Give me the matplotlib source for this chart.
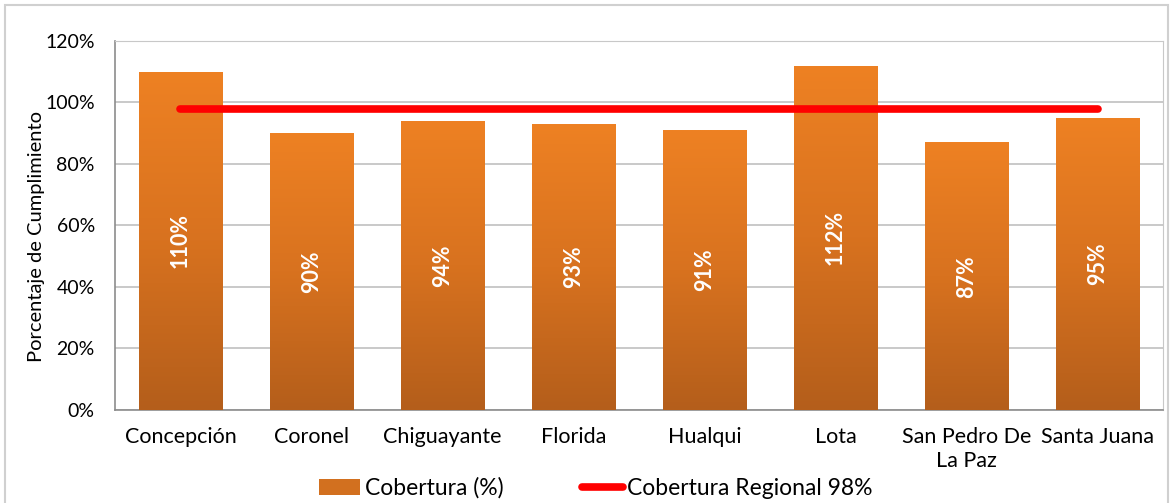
import numpy as np
import matplotlib.pyplot as plt
from matplotlib.patches import Patch, Rectangle
from matplotlib.lines import Line2D
from matplotlib.colors import LinearSegmentedColormap

comunas = ['Concepción', 'Coronel', 'Chiguayante', 'Florida', 'Hualqui',
           'Lota', 'San Pedro De\nLa Paz', 'Santa Juana']
cobertura = [110, 90, 94, 93, 91, 112, 87, 95]
regional = [98] * len(comunas)

plt.rcParams['font.family'] = ['Lato', 'DejaVu Sans']

fig = plt.figure(figsize=(11.71, 5.03), dpi=100)
ax = fig.add_axes([0.0982, 0.1849, 0.8950, 0.7336])

# borde exterior del grafico
fig.patches.append(Rectangle((5 / 1171, -0.1), 1163 / 1171, 1.0 - 5 / 503 + 0.1,
                             transform=fig.transFigure, fill=False,
                             edgecolor='#D0D0D0', lw=1.5))

x = np.arange(len(comunas))
ancho = 0.64
bars = ax.bar(x, cobertura, width=ancho, color='none', zorder=3)

cmap = LinearSegmentedColormap.from_list('naranja', ['#B45E1B', '#D8721F', '#EE8123'])
grad = np.linspace(0, 1, 256).reshape(-1, 1)
for b, v in zip(bars, cobertura):
    x0 = b.get_x()
    im = ax.imshow(grad, cmap=cmap, aspect='auto', origin='lower',
                   extent=(x0, x0 + ancho, 0, v), zorder=3)
    im.set_clip_path(b)
    ax.text(x0 + ancho / 2, v / 2, f'{v}%', rotation=90, ha='center', va='center',
            color='white', fontsize=15.5, fontweight='bold', zorder=5)

ax.plot(x, regional, color='#FF0000', lw=5.5, solid_capstyle='round', zorder=4)

ax.set_xlim(-0.5, len(comunas) - 0.5)
ax.set_ylim(0, 120)
ax.set_yticks(range(0, 121, 20))
ax.set_yticklabels([f'{t}%' for t in range(0, 121, 20)], fontsize=14)
ax.set_xticks(x)
ax.set_xticklabels(comunas, fontsize=15.5, linespacing=1.25)
ax.tick_params(axis='x', length=0, pad=12)
ax.tick_params(axis='y', length=0, pad=14.5)
ax.grid(axis='y', color='#C0C0C0', lw=1.2, zorder=0)
ax.set_axisbelow(True)
for s in ['top', 'right']:
    ax.spines[s].set_color('#C8C8C8')
for s in ['left', 'bottom']:
    ax.spines[s].set_color('#8C8C8C')
    ax.spines[s].set_linewidth(1.2)
ax.set_ylabel('Porcentaje de Cumplimiento', fontsize=14.5)
ax.yaxis.set_label_coords(-0.067, 0.47)

handles = [Patch(facecolor='#D2701F', edgecolor='none'),
           Line2D([0], [0], color='#FF0000', lw=5.5, solid_capstyle='round')]
fig.legend(handles, ['Cobertura (%)', 'Cobertura Regional 98%'], loc='center',
           bbox_to_anchor=(0.509, 0.03), ncol=2, frameon=False, fontsize=16.5,
           handlelength=1.8, handletextpad=0.2, columnspacing=3.4)

fig.savefig('out.png', dpi=100)
